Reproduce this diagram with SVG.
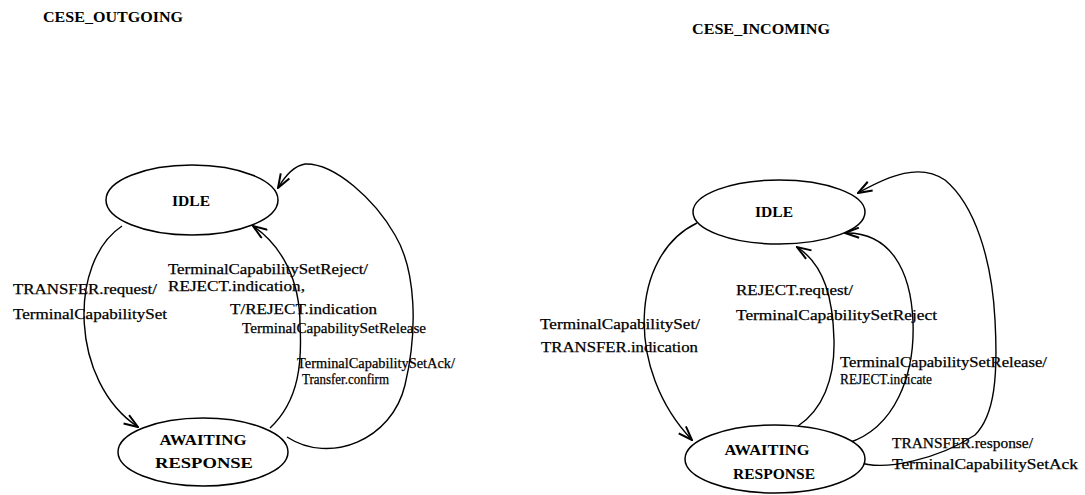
<svg xmlns="http://www.w3.org/2000/svg" width="1085" height="495" viewBox="0 0 1085 495">
  <style>
    .bg { fill: #ffffff; }
    .state { fill: #ffffff; stroke: #000000; stroke-width: 1.5; }
    .edge { fill: none; stroke: #000000; stroke-width: 1.4; marker-end: url(#arrow); }
    .title { font-family: "Liberation Serif", "Times New Roman", serif; font-size: 15px; font-weight: bold; fill: #000000; }
    .name { font-family: "Liberation Serif", "Times New Roman", serif; font-size: 15px; font-weight: bold; fill: #000000; text-anchor: middle; }
    .label { font-family: "Liberation Serif", "Times New Roman", serif; font-size: 15px; fill: #000000; stroke: #000000; stroke-width: 0.25; }
  </style>
  <defs>
    <marker id="arrow" viewBox="0 0 16 12" refX="15" refY="6" markerWidth="16" markerHeight="12" orient="auto" markerUnits="userSpaceOnUse">
      <path d="M1,1 L15,6 L1,11" fill="none" stroke="#000000" stroke-width="2"/>
    </marker>
  </defs>

  <rect class="bg" x="0" y="0" width="1085" height="495"/>

  <!-- machine titles -->
  <text class="title" x="43" y="22" textLength="140" lengthAdjust="spacingAndGlyphs">CESE_OUTGOING</text>
  <text class="title" x="692" y="34" textLength="138" lengthAdjust="spacingAndGlyphs">CESE_INCOMING</text>

  <!-- transitions -->
  <g id="connectors">
    <!-- outgoing side -->
    <path class="edge" d="M 122 226 C 68 262, 70 382, 138 427"/>
    <path class="edge" d="M 270 428 C 300 400, 302 360, 300 325 C 300 280, 282 246, 253 226"/>
    <path class="edge" d="M 287 437 C 330 465, 392 440, 405 385 C 418 330, 416 270, 395 235 C 375 200, 335 163, 305 164 C 293 166, 285 176, 278 188"/>
    <!-- incoming side -->
    <path class="edge" d="M 697 223 C 630 255, 625 370, 692 440"/>
    <path class="edge" d="M 798 426 C 822 410, 835 380, 834 340 C 833 300, 825 265, 797 247"/>
    <path class="edge" d="M 848 443 C 895 428, 915 375, 913 322 C 911 270, 890 232, 845 233"/>
    <path class="edge" d="M 858 462 C 885 472, 940 458, 975 435 C 995 415, 998 375, 995 320 C 992 260, 975 205, 945 180 C 920 163, 890 175, 858 193"/>
  </g>

  <!-- transition labels, outgoing -->
  <g id="labels-outgoing">
    <text class="label" x="13" y="294" textLength="144" lengthAdjust="spacingAndGlyphs">TRANSFER.request/</text>
    <text class="label" x="13" y="319" textLength="154" lengthAdjust="spacingAndGlyphs">TerminalCapabilitySet</text>
    <text class="label" x="168" y="274" textLength="200" lengthAdjust="spacingAndGlyphs">TerminalCapabilitySetReject/</text>
    <text class="label" x="168" y="291" textLength="137" lengthAdjust="spacingAndGlyphs">REJECT.indication,</text>
    <text class="label" x="230" y="314" textLength="147" lengthAdjust="spacingAndGlyphs">T/REJECT.indication</text>
    <text class="label" x="242" y="333" textLength="184" lengthAdjust="spacingAndGlyphs">TerminalCapabilitySetRelease</text>
    <text class="label" x="297" y="368" textLength="158" lengthAdjust="spacingAndGlyphs">TerminalCapabilitySetAck/</text>
    <text class="label" x="302" y="384" textLength="87" lengthAdjust="spacingAndGlyphs">Transfer.confirm</text>
  </g>

  <!-- transition labels, incoming -->
  <g id="labels-incoming">
    <text class="label" x="540" y="329" textLength="160" lengthAdjust="spacingAndGlyphs">TerminalCapabilitySet/</text>
    <text class="label" x="541" y="352" textLength="157" lengthAdjust="spacingAndGlyphs">TRANSFER.indication</text>
    <text class="label" x="736" y="295" textLength="117" lengthAdjust="spacingAndGlyphs">REJECT.request/</text>
    <text class="label" x="736" y="320" textLength="201" lengthAdjust="spacingAndGlyphs">TerminalCapabilitySetReject</text>
    <text class="label" x="840" y="367" textLength="207" lengthAdjust="spacingAndGlyphs">TerminalCapabilitySetRelease/</text>
    <text class="label" x="840" y="384" textLength="92" lengthAdjust="spacingAndGlyphs">REJECT.indicate</text>
    <text class="label" x="892" y="448" textLength="141" lengthAdjust="spacingAndGlyphs">TRANSFER.response/</text>
    <text class="label" x="892" y="469" textLength="186" lengthAdjust="spacingAndGlyphs">TerminalCapabilitySetAck</text>
  </g>

  <!-- states, outgoing -->
  <g id="out-idle">
    <ellipse class="state" cx="192" cy="200" rx="86" ry="35"/>
    <text class="name" x="191" y="206" textLength="38" lengthAdjust="spacingAndGlyphs">IDLE</text>
  </g>
  <g id="out-awaiting">
    <ellipse class="state" cx="203" cy="452" rx="85" ry="34"/>
    <text class="name" x="203" y="445" textLength="87" lengthAdjust="spacingAndGlyphs">AWAITING</text>
    <text class="name" x="204" y="468" textLength="98" lengthAdjust="spacingAndGlyphs">RESPONSE</text>
  </g>

  <!-- states, incoming -->
  <g id="in-idle">
    <ellipse class="state" cx="779" cy="212" rx="86" ry="32"/>
    <text class="name" x="774" y="217" textLength="38" lengthAdjust="spacingAndGlyphs">IDLE</text>
  </g>
  <g id="in-awaiting">
    <ellipse class="state" cx="775" cy="459" rx="90" ry="34"/>
    <text class="name" x="767" y="455" textLength="85" lengthAdjust="spacingAndGlyphs">AWAITING</text>
    <text class="name" x="774" y="479" textLength="82" lengthAdjust="spacingAndGlyphs">RESPONSE</text>
  </g>
</svg>
